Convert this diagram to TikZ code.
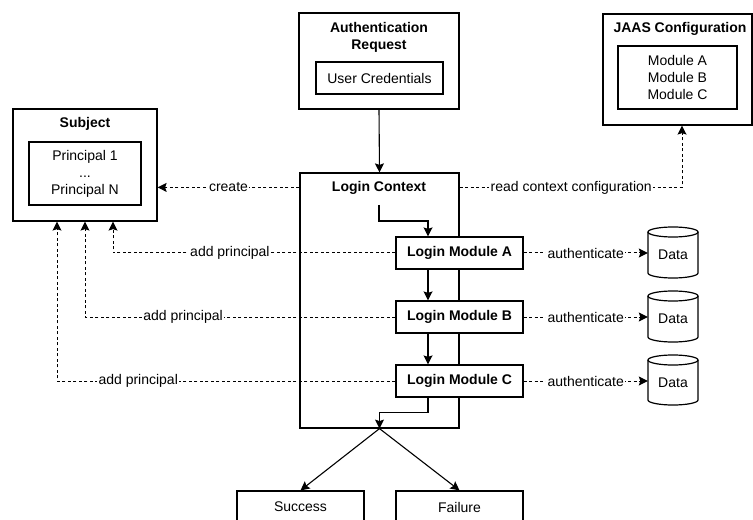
\documentclass[tikz,border=0pt]{standalone}
\usepackage{fontspec}
\setmainfont{Liberation Sans}
\usetikzlibrary{arrows.meta,calc}
\newcommand\mycyl[3]{%
  \draw[line width=1.2bp,fill=white] (#1-25,#2+5) -- (#1-25,#3-5)
    arc[start angle=180,end angle=0,x radius=25,y radius=5] -- (#1+25,#2+5);
  \draw[line width=1.2bp] (#1,#2+5) ellipse[x radius=25,y radius=5];
}
\begin{document}
\begin{tikzpicture}[x=1bp,y=-1bp,
  every node/.style={font=\fontsize{14bp}{17bp}\selectfont},
  box/.style={draw,line width=1.2bp,align=center,inner sep=0pt},
  ttl/.style={font=\fontsize{14bp}{17bp}\selectfont\bfseries,align=center,inner sep=0pt},
  modbox/.style={box,fill=white,font=\fontsize{14bp}{17bp}\selectfont\bfseries,minimum width=127bp,minimum height=32bp},
  lbl/.style={fill=white,inner sep=1.5bp},
  arr/.style={line width=1.1bp,-{Stealth[length=9bp,width=9bp,inset=1.5bp]}},
  dsh/.style={arr,line width=1bp,dash pattern=on 3bp off 2.5bp}]
\useasboundingbox (0,0) rectangle (753,520);
\clip (0,0) rectangle (753,520);

% Subject
\node[box,minimum width=144bp,minimum height=112bp] (subj) at (85,165) {};
\node[ttl] (subjt) at (85,124) {Subject};
\node[box,minimum width=112bp,minimum height=63bp] (princ) at (85,173.5) {Principal 1\\...\\Principal N};

% Authentication request
\node[box,minimum width=160bp,minimum height=96bp] (auth) at (379,61) {};
\node[ttl] (autht) at (379,37.5) {Authentication\\Request};
\node[box,minimum width=127bp,minimum height=32bp] (cred) at (379.5,78) {User Credentials};

% JAAS configuration
\node[box,minimum width=149bp,minimum height=111bp] (jaas) at (677.5,69.5) {};
\node[ttl] (jaast) at (680,29) {JAAS Configuration};
\node[box,minimum width=119bp,minimum height=63bp] (mods) at (677.5,77.5) {Module A\\Module B\\Module C};

% Login context
\node[box,minimum width=159bp,minimum height=255bp] (lc) at (379.5,300.5) {};
\node[ttl] (lct) at (379,188) {Login Context};
\coordinate (lcNW) at ([yshift=-15bp]lc.north west);
\coordinate (lcNE) at ([yshift=-15bp]lc.north east);
\coordinate (lcs) at (379,205);

% Login modules
\node[modbox] (mA) at (459.5,253) {Login Module A};
\node[modbox] (mB) at (459.5,317) {Login Module B};
\node[modbox] (mC) at (459.5,381) {Login Module C};

% Data stores
\mycyl{673}{227}{278}
\mycyl{673}{291}{342}
\mycyl{673}{355}{405}
\node[minimum width=50bp,minimum height=30bp,inner sep=0pt] (dA) at (673,255) {Data};
\node[minimum width=50bp,minimum height=30bp,inner sep=0pt] (dB) at (673,319) {Data};
\node[minimum width=50bp,minimum height=30bp,inner sep=0pt] (dC) at (673,383) {Data};

% Results
\node[box,minimum width=127bp,minimum height=32bp] (succ) at (300.5,507) {Success};
\node[box,minimum width=127bp,minimum height=32bp] (fail) at (459.5,507) {Failure};

% Connectors
\draw[arr] (auth.south) -- (lc.north);
\draw[dsh] (lcNW) -- (subj.east |- lcNW) node[lbl,midway] {create};
\draw[dsh] (lcNE) -| ([xshift=4.5bp]jaas.south) node[lbl,pos=0.251] {read context configuration};

\draw[dsh] (mA.west) -| ([xshift=28bp]subj.south) node[lbl,pos=0.293] {add principal};
\draw[dsh] (mB.west) -| (subj.south) node[lbl,pos=0.342] {add principal};
\draw[dsh] (mC.west) -| ([xshift=-28bp]subj.south) node[lbl,pos=0.38] {add principal};

\draw[dsh] (mA.east) -- (mA.east -| dA.west) node[lbl,midway] {authenticate};
\draw[dsh] (mB.east) -- (mB.east -| dB.west) node[lbl,midway] {authenticate};
\draw[dsh] (mC.east) -- (mC.east -| dC.west) node[lbl,midway] {authenticate};

\draw[arr] (lcs) -- ++(0,16) -| ([xshift=-31.5bp]mA.north);
\draw[arr] ([xshift=-31.5bp]mA.south) -- ([xshift=-31.5bp]mB.north);
\draw[arr] ([xshift=-31.5bp]mB.south) -- ([xshift=-31.5bp]mC.north);
\draw[arr] ([xshift=-31.5bp]mC.south) -- ++(0,15) -| (lc.south);
\draw[arr] (lc.south) -- (succ.north);
\draw[arr] (lc.south) -- (fail.north);
\end{tikzpicture}
\end{document}
